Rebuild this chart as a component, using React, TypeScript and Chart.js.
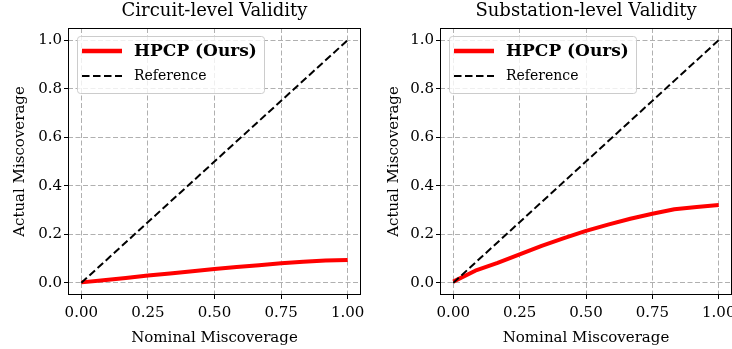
import React, { useEffect, useRef } from 'react';
import { Chart, registerables } from 'chart.js';

Chart.register(...registerables);

// ---- data ----
const nominal = [0, 0.083, 0.167, 0.25, 0.333, 0.417, 0.5, 0.583, 0.667, 0.75, 0.833, 0.917, 1.0];
const circuitActual = [0.002, 0.011, 0.02, 0.03, 0.039, 0.048, 0.057, 0.065, 0.073, 0.081, 0.087, 0.092, 0.094];
const substationActual = [0.005, 0.05, 0.082, 0.117, 0.152, 0.184, 0.214, 0.24, 0.264, 0.285, 0.303, 0.313, 0.321];
const referenceX = [0, 1];
const referenceY = [0, 1];
const xTicks = [0, 0.25, 0.5, 0.75, 1.0];
const yTicks = [0, 0.2, 0.4, 0.6, 0.8, 1.0];
const panelTitles = ['Circuit-level Validity', 'Substation-level Validity'];
const seriesLabel = 'HPCP (Ours)';
const referenceLabel = 'Reference';
const xLabel = 'Nominal Miscoverage';
const yLabel = 'Actual Miscoverage';

const FONT = "'DejaVu Serif', serif";

const framePlugin = {
  id: 'frameAndLegend',
  afterDraw(chart: any) {
    const { ctx, chartArea } = chart;
    const l = Math.round(chartArea.left), t = Math.round(chartArea.top);
    const r = Math.round(chartArea.right), b = Math.round(chartArea.bottom);
    ctx.save();
    ctx.strokeStyle = '#000';
    ctx.lineWidth = 1;
    ctx.setLineDash([]);
    ctx.strokeRect(l + 0.5, t + 0.5, r - l - 1, b - t - 1);

    // legend
    const bx = l + 9.5, by = t + 8.5, bw = 187, bh = 57;
    ctx.beginPath();
    (ctx as any).roundRect(bx, by, bw, bh, 3);
    ctx.fillStyle = 'rgba(255,255,255,0.8)';
    ctx.fill();
    ctx.strokeStyle = '#cccccc';
    ctx.lineWidth = 1;
    ctx.stroke();

    const y1 = by + 14.5, y2 = by + 39.5;
    ctx.beginPath();
    ctx.strokeStyle = '#ff0000';
    ctx.lineWidth = 4.5;
    ctx.moveTo(bx + 4.5, y1);
    ctx.lineTo(bx + 44.5, y1);
    ctx.stroke();

    ctx.beginPath();
    ctx.strokeStyle = '#000';
    ctx.lineWidth = 2;
    ctx.setLineDash([7.5, 3.5]);
    ctx.moveTo(bx + 4.5, y2);
    ctx.lineTo(bx + 44.5, y2);
    ctx.stroke();
    ctx.setLineDash([]);

    ctx.fillStyle = '#000';
    ctx.textBaseline = 'middle';
    ctx.textAlign = 'left';
    ctx.font = `bold 17px ${FONT}`;
    ctx.fillText(seriesLabel, bx + 56.5, y1 + 0.5);
    ctx.font = `14px ${FONT}`;
    ctx.fillText(referenceLabel, bx + 56.5, y2 + 0.5);
    ctx.restore();
  },
};

function Panel(props: { title: string; values: number[]; left: number; width: number; axisWidth: number; rightPad: number; yTitlePad: number }) {
  const ref = useRef<HTMLCanvasElement | null>(null);
  useEffect(() => {
    if (!ref.current) return;
    const chart = new Chart(ref.current, {
      type: 'line',
      data: {
        datasets: [
          {
            label: referenceLabel,
            data: referenceX.map((x, i) => ({ x, y: referenceY[i] })),
            borderColor: '#000',
            borderWidth: 2,
            borderDash: [7.5, 3.5],
            pointRadius: 0,
            fill: false,
            order: 0,
          },
          {
            label: seriesLabel,
            data: nominal.map((x, i) => ({ x, y: props.values[i] })),
            borderColor: '#ff0000',
            borderWidth: 4,
            pointRadius: 0,
            fill: false,
            borderJoinStyle: 'round',
            borderCapStyle: 'butt',
            order: 1,
          },
        ],
      },
      options: {
        responsive: false,
        animation: false,
        layout: { padding: { left: 0, right: props.rightPad, top: 0, bottom: 0 } },
        plugins: {
          legend: { display: false },
          tooltip: { enabled: false },
          title: {
            display: true,
            text: props.title,
            fullSize: false,
            color: '#000',
            font: { family: FONT, size: 18, weight: 'normal' },
            padding: { top: 1, bottom: 5.4 },
          },
        },
        scales: {
          x: {
            type: 'linear',
            min: -0.05,
            max: 1.05,
            afterBuildTicks: (s: any) => { s.ticks = xTicks.map((v) => ({ value: v })); },
            afterFit: (s: any) => { s.height = 54; s.paddingLeft = 0; s.paddingRight = 0; },
            ticks: {
              color: '#000',
              font: { family: FONT, size: 15 },
              padding: 5,
              maxRotation: 0,
              autoSkip: false,
              callback: (v: any) => Number(v).toFixed(2),
            },
            grid: { color: '#b0b0b0', lineWidth: 1, tickColor: '#000', tickLength: 4, tickWidth: 1 },
            border: { display: false, dash: [5, 2.5] },
            title: { display: true, text: xLabel, color: '#000', font: { family: FONT, size: 15 }, padding: { top: 0, bottom: 2 } },
          },
          y: {
            type: 'linear',
            min: -0.05,
            max: 1.05,
            afterBuildTicks: (s: any) => { s.ticks = yTicks.map((v) => ({ value: v })); },
            afterFit: (s: any) => { s.width = props.axisWidth; s.paddingTop = 0; s.paddingBottom = 0; },
            ticks: {
              color: '#000',
              font: { family: FONT, size: 15 },
              padding: 2,
              autoSkip: false,
              callback: (v: any) => Number(v).toFixed(1),
            },
            grid: { color: '#b0b0b0', lineWidth: 1, tickColor: '#000', tickLength: 4, tickWidth: 1 },
            border: { display: false, dash: [5, 2.5] },
            title: { display: true, text: yLabel, color: '#000', font: { family: FONT, size: 15 }, padding: { top: props.yTitlePad, bottom: 0 } },
          },
        },
      } as any,
      plugins: [framePlugin],
    });
    return () => chart.destroy();
  }, []);
  return (
    <canvas
      ref={ref}
      width={props.width}
      height={349}
      style={{ position: 'absolute', left: props.left, top: 0, width: props.width, height: 349 }}
    />
  );
}

export default function App() {
  return (
    <div style={{ position: 'fixed', left: 0, top: 0, width: 732, height: 349, overflow: 'hidden', background: '#fff' }}>
      <Panel title={panelTitles[0]} values={circuitActual} left={0} width={366} axisWidth={68} rightPad={5} yTitlePad={11} />
      <Panel title={panelTitles[1]} values={substationActual} left={366} width={400} axisWidth={74} rightPad={34} yTitlePad={19} />
    </div>
  );
}
